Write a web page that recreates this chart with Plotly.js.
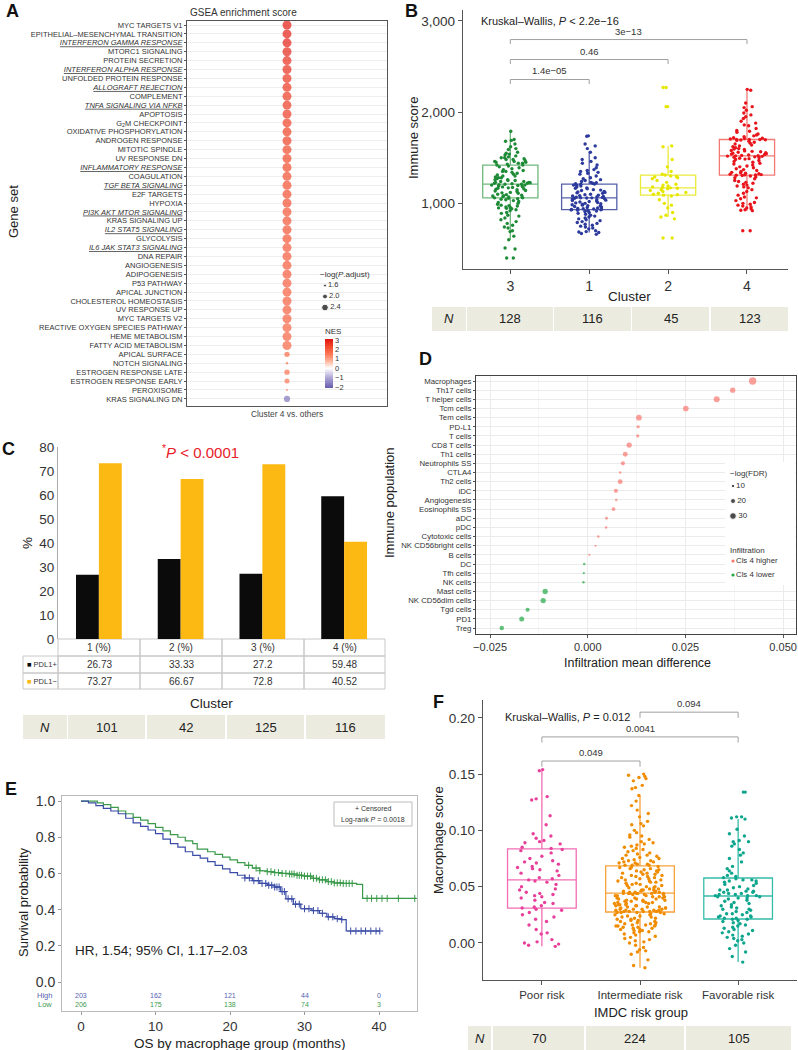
<!DOCTYPE html>
<html><head><meta charset="utf-8">
<script src="https://cdn.plot.ly/plotly-3.0.1.min.js"></script>
<style>html,body{margin:0;padding:0;background:#fff}#chart{width:798px;height:1050px}</style>
</head><body><div id="chart"></div>
<script>
// ================= DATA =================
// Panel A: GSEA hallmark gene sets (Cluster 4 vs. others)
const geneSets = ['MYC TARGETS V1','EPITHELIAL–MESENCHYMAL TRANSITION','INTERFERON GAMMA RESPONSE','MTORC1 SIGNALING','PROTEIN SECRETION','INTERFERON ALPHA RESPONSE','UNFOLDED PROTEIN RESPONSE','ALLOGRAFT REJECTION','COMPLEMENT','TNFA SIGNALING VIA NFKB','APOPTOSIS','G2M CHECKPOINT','OXIDATIVE PHOSPHORYLATION','ANDROGEN RESPONSE','MITOTIC SPINDLE','UV RESPONSE DN','INFLAMMATORY RESPONSE','COAGULATION','TGF BETA SIGNALING','E2F TARGETS','HYPOXIA','PI3K AKT MTOR SIGNALING','KRAS SIGNALING UP','IL2 STAT5 SIGNALING','GLYCOLYSIS','IL6 JAK STAT3 SIGNALING','DNA REPAIR','ANGIOGENESIS','ADIPOGENESIS','P53 PATHWAY','APICAL JUNCTION','CHOLESTEROL HOMEOSTASIS','UV RESPONSE UP','MYC TARGETS V2','REACTIVE OXYGEN SPECIES PATHWAY','HEME METABOLISM','FATTY ACID METABOLISM','APICAL SURFACE','NOTCH SIGNALING','ESTROGEN RESPONSE LATE','ESTROGEN RESPONSE EARLY','PEROXISOME','KRAS SIGNALING DN'];
const immuneSets = ['INTERFERON GAMMA RESPONSE','INTERFERON ALPHA RESPONSE','ALLOGRAFT REJECTION','TNFA SIGNALING VIA NFKB','INFLAMMATORY RESPONSE','TGF BETA SIGNALING','PI3K AKT MTOR SIGNALING','IL2 STAT5 SIGNALING','IL6 JAK STAT3 SIGNALING'];
const nesA = [3.0,2.9,2.9,2.8,2.7,2.7,2.6,2.6,2.5,2.5,2.5,2.4,2.4,2.4,2.3,2.3,2.3,2.2,2.2,2.2,2.2,2.1,2.1,2.1,2.1,2.0,2.0,2.0,2.0,1.95,1.95,1.9,1.9,1.9,1.85,1.85,1.8,1.7,1.6,1.6,1.55,1.4,-1.7];
const logPadjA = [2.9,2.9,2.9,2.9,2.9,2.9,2.9,2.9,2.9,2.9,2.9,2.9,2.9,2.9,2.9,2.9,2.9,2.9,2.9,2.9,2.9,2.9,2.9,2.9,2.9,2.9,2.9,2.9,2.9,2.9,2.9,2.9,2.9,2.9,2.9,2.9,2.9,2.1,1.5,2.1,2.05,1.4,2.3];
const sizeKeyA = [1.6, 2.0, 2.4];
const nesTicks = [-2,-1,0,1,2,3];

// Panel B: immune score by cluster
const clusterOrderB = ['3','1','2','4'];
const immune3 = [1790,1700,1690,1680,1650,1620,1600,1590,1560,1550,1540,1530,1520,1510,1500,1500,1490,1480,1480,1470,1460,1460,1450,1450,1440,1440,1430,1420,1420,1410,1400,1390,1380,1370,1360,1350,1350,1340,1330,1320,1310,1300,1300,1290,1280,1280,1270,1260,1260,1250,1250,1240,1240,1230,1230,1225,1220,1220,1215,1210,1210,1205,1200,1200,1195,1190,1185,1180,1175,1170,1165,1160,1155,1150,1140,1135,1130,1120,1115,1110,1100,1095,1090,1085,1080,1075,1070,1065,1060,1060,1055,1050,1045,1040,1030,1020,1010,1000,990,980,975,970,960,955,950,945,940,930,920,900,890,870,860,840,820,800,780,760,740,730,700,690,640,600,510,500,400,400];
const immune1 = [1740,1735,1650,1630,1600,1560,1500,1480,1460,1440,1420,1390,1370,1360,1350,1340,1330,1320,1300,1280,1270,1260,1250,1240,1230,1225,1220,1215,1212,1210,1200,1195,1190,1180,1170,1165,1160,1150,1145,1140,1130,1125,1120,1115,1110,1100,1095,1090,1085,1080,1075,1070,1068,1065,1062,1060,1058,1055,1050,1045,1040,1035,1030,1025,1020,1015,1010,1005,1000,995,990,985,980,975,970,965,960,955,950,945,940,938,935,932,930,928,925,920,915,910,900,890,880,870,860,850,840,830,820,810,800,790,780,770,760,750,740,730,720,700,690,685,680,670,660];
const immune2 = [2270,2270,2060,2060,1630,1620,1480,1400,1350,1320,1310,1300,1295,1290,1280,1270,1250,1230,1210,1200,1190,1180,1175,1170,1165,1160,1150,1140,1130,1120,1110,1100,1095,1090,1080,1040,1000,980,950,900,870,850,830,620,620];
const immune4 = [2250,2240,2100,2060,2050,2020,1990,1970,1950,1930,1900,1880,1860,1850,1820,1800,1790,1780,1760,1750,1740,1730,1720,1715,1710,1705,1700,1700,1700,1698,1695,1690,1680,1670,1660,1650,1640,1630,1620,1610,1600,1595,1590,1580,1575,1570,1565,1560,1555,1550,1545,1540,1535,1530,1525,1522,1520,1518,1515,1510,1505,1500,1495,1490,1485,1480,1470,1460,1450,1440,1430,1420,1410,1400,1390,1380,1370,1360,1350,1340,1335,1330,1325,1320,1315,1312,1310,1308,1305,1300,1290,1280,1270,1250,1230,1220,1210,1200,1190,1170,1150,1130,1110,1090,1070,1050,1030,1010,1000,990,980,970,960,950,940,930,925,920,1240,1180,1060,700,700];
const q1B  = [1060, 930, 1090, 1310];
const medB = [1210, 1060, 1170, 1520];
const q3B  = [1420, 1210, 1310, 1700];
const loB  = [600, 680, 850, 920];
const hiB  = [1790, 1570, 1630, 2250];
const nB = [128, 116, 45, 123];
const pairsB = [['3','1','1.4e−05'],['3','2','0.46'],['3','4','3e−13']];

// Panel C: PD-L1 status by cluster
const clustersC = ['1','2','3','4'];
const pdl1Pos = [26.73, 33.33, 27.2, 59.48];
const pdl1Neg = [73.27, 66.67, 72.8, 40.52];
const nC = [101, 42, 125, 116];

// Panel D: immune infiltration difference
const immunePops = ['Macrophages','Th17 cells','T helper cells','Tcm cells','Tem cells','PD-L1','T cells','CD8 T cells','Th1 cells','Neutrophils SS','CTLA4','Th2 cells','iDC','Angiogenesis','Eosinophils SS','aDC','pDC','Cytotoxic cells','NK CD56bright cells','B cells','DC','Tfh cells','NK cells','Mast cells','NK CD56dim cells','Tgd cells','PD1','Treg'];
const meanDiff = [0.0422,0.0371,0.0330,0.0251,0.0131,0.0129,0.0128,0.0106,0.0096,0.0090,0.0083,0.0083,0.0072,0.0073,0.0066,0.0048,0.0047,0.0027,0.0020,0.0004,-0.0009,-0.0010,-0.0011,-0.0109,-0.0114,-0.0154,-0.0169,-0.0220];
const negLogFDR = [34,22,26,24,24,9,9,22,19,15,5,19,15,5,13,7,5,5,3,3,5,3,5,22,22,15,20,17];
const sizeKeyD = [10, 20, 30];
const infilGroups = ['Cls 4 higher','Cls 4 lower'];

// Panel E: Kaplan–Meier by macrophage group
const lowT  = [0,2.2,3,4,5,6,7,8,9,10,11,12,13,14,15,15.6,17,18,19,20,21,22,23,24,25,26,27,28,29,30,31,32,33,34,35,37,37.8,45];
const lowS  = [1,0.99,0.98,0.965,0.945,0.93,0.91,0.895,0.875,0.855,0.835,0.815,0.8,0.78,0.765,0.735,0.72,0.705,0.69,0.675,0.66,0.645,0.63,0.615,0.61,0.605,0.6,0.597,0.59,0.585,0.573,0.565,0.555,0.548,0.545,0.54,0.462,0.462];
const highT = [0,1,2,3,4,5,6,7,8,9,10,11,12,13,14,15,16,17,18,19,20,21,22,23,24,25,26,26.8,27.5,28.5,29.5,31,32,33,34,35,35.6,40];
const highS = [1,0.99,0.975,0.96,0.945,0.93,0.905,0.88,0.86,0.84,0.82,0.79,0.765,0.745,0.72,0.7,0.685,0.665,0.645,0.625,0.605,0.59,0.575,0.56,0.545,0.535,0.525,0.5,0.46,0.43,0.405,0.395,0.38,0.36,0.35,0.345,0.282,0.282];
const lowCens  = [22.5,23.5,24,25,25.5,26,26.5,27,27.5,28,28.3,28.6,29,29.3,29.6,30,30.4,30.8,31.2,31.6,32,32.4,32.8,33.2,33.6,34,34.4,34.8,35.2,35.6,36,36.4,38.4,39,39.7,40.4,41.1,42.6,44.8];
const highCens = [22,22.6,23.2,23.8,24.3,24.8,25.2,25.6,26,26.3,26.6,27,27.3,27.8,28.3,28.8,29.3,30,30.6,31.2,31.8,32.4,33.2,33.8,34.4,35,36.2,36.9,37.6,38.2,38.9,39.6,40.1];
const riskTimes = [0,10,20,30,40];
const riskHigh = [203,162,121,44,0];
const riskLow  = [206,175,138,74,3];

// Panel F: macrophage score by IMDC risk group
const riskGroups = ['Poor risk','Intermediate risk','Favorable risk'];
const macPoor = [0.154,0.153,0.130,0.128,0.127,0.113,0.105,0.097,0.095,0.093,0.091,0.090,0.089,0.088,0.085,0.084,0.083,0.082,0.080,0.077,0.075,0.073,0.072,0.071,0.070,0.068,0.067,0.066,0.065,0.064,0.062,0.060,0.058,0.057,0.056,0.055,0.054,0.052,0.050,0.048,0.047,0.045,0.044,0.043,0.042,0.041,0.040,0.038,0.036,0.035,0.033,0.032,0.031,0.030,0.029,0.027,0.025,0.023,0.021,0.019,0.016,0.012,0.009,0.008,0.003,0.001,0.000,-0.002,-0.003,-0.001];
const macInter = [0.150,0.149,0.148,0.147,0.146,0.144,0.140,0.138,0.137,0.131,0.126,0.122,0.118,0.115,0.112,0.108,0.106,0.105,0.104,0.100,0.098,0.096,0.095,0.094,0.092,0.090,0.089,0.088,0.087,0.086,0.085,0.084,0.083,0.082,0.081,0.080,0.079,0.078,0.078,0.077,0.076,0.075,0.075,0.074,0.073,0.073,0.072,0.072,0.071,0.071,0.070,0.070,0.069,0.069,0.069,0.068,
0.067,0.067,0.066,0.066,0.065,0.065,0.064,0.064,0.063,0.063,0.062,0.062,0.061,0.061,0.060,0.060,0.059,0.059,0.058,0.058,0.057,0.057,0.056,0.056,0.055,0.055,0.054,0.054,0.053,0.053,0.052,0.052,0.051,0.051,0.050,0.050,0.049,0.049,0.048,0.048,0.047,0.047,0.047,0.046,0.046,0.046,0.045,0.045,0.045,0.045,0.044,0.044,0.044,0.044,0.044,0.044,
0.044,0.043,0.043,0.043,0.042,0.042,0.042,0.041,0.041,0.041,0.040,0.040,0.040,0.039,0.039,0.039,0.038,0.038,0.038,0.037,0.037,0.037,0.036,0.036,0.036,0.035,0.035,0.035,0.034,0.034,0.034,0.033,0.033,0.033,0.032,0.032,0.032,0.031,0.031,0.031,0.030,0.030,0.030,0.030,0.029,0.029,0.029,0.029,0.028,0.028,0.028,0.028,0.028,0.027,0.027,0.027,
0.027,0.026,0.026,0.025,0.025,0.024,0.024,0.023,0.023,0.022,0.022,0.021,0.021,0.020,0.020,0.019,0.019,0.018,0.018,0.017,0.017,0.016,0.016,0.016,0.015,0.015,0.015,0.014,0.014,0.013,0.013,0.012,0.012,0.011,0.011,0.010,0.010,0.009,0.008,0.007,0.006,0.005,0.004,0.003,0.002,0.001,0.000,-0.002,-0.004,-0.006,-0.007,-0.008,-0.010,-0.015,-0.020,-0.022];
const macFav = [0.134,0.134,0.112,0.112,0.111,0.110,0.101,0.097,0.095,0.091,0.090,0.090,0.088,0.086,0.083,0.080,0.078,0.075,0.072,0.068,0.066,0.064,0.062,0.060,0.059,0.058,
0.057,0.056,0.056,0.055,0.055,0.054,0.053,0.052,0.051,0.050,0.049,0.048,0.047,0.047,0.046,0.046,0.045,0.045,0.044,0.044,0.043,0.043,0.042,0.042,0.042,0.041,
0.041,0.040,0.040,0.039,0.038,0.037,0.036,0.035,0.034,0.033,0.032,0.031,0.030,0.030,0.029,0.028,0.027,0.026,0.026,0.025,0.024,0.024,0.023,0.023,0.022,0.022,0.021,
0.021,0.020,0.019,0.018,0.017,0.016,0.015,0.014,0.013,0.012,0.011,0.010,0.009,0.008,0.007,0.006,0.005,0.004,0.003,0.002,0.000,-0.002,-0.005,-0.008,-0.012,-0.017];
const q1F  = [0.031, 0.0275, 0.0213];
const medF = [0.056, 0.0443, 0.0417];
const q3F  = [0.0835, 0.0685, 0.0577];
const loF  = [-0.003, -0.022, -0.017];
const hiF  = [0.153, 0.131, 0.110];
const nF = [70, 224, 105];
const pairsF = [['Poor risk','Intermediate risk','0.049'],['Poor risk','Favorable risk','0.0041'],['Intermediate risk','Favorable risk','0.094']];

// ================= STYLE / LAYOUT =================
const W = 798, H = 1050;
const px = x => x / W, py = y => 1 - y / H;
const FONT = 'Liberation Sans, Arial, Helvetica, sans-serif';
const fnt = (size, color) => ({family: FONT, size: size, color: color || '#222'});
const annotations = [], shapes = [];
function T(text, x, y, o) { annotations.push(Object.assign({text, x: px(x), y: py(y), xref: 'paper', yref: 'paper', showarrow: false, xanchor: 'center', yanchor: 'middle'}, o || {})); }
function R(x0, y0, x1, y1, fill, line, layer) { shapes.push({type: 'rect', xref: 'paper', yref: 'paper', x0: px(x0), x1: px(x1), y0: py(y1), y1: py(y0), fillcolor: fill || 'rgba(0,0,0,0)', line: {width: line ? 1 : 0, color: line || 'rgba(0,0,0,0)'}, layer: layer || 'below'}); }
function nTable(cells, yTop, yBot, values) {
  cells.forEach((c, i) => {
    R(c[0], yTop, c[1], yBot, '#ecebdf');
    T(i === 0 ? '<i>N</i>' : String(values[i - 1]), (c[0] + c[1]) / 2, (yTop + yBot) / 2, {font: fnt(13, '#222')});
  });
}
const sizeA = v => Math.max(1.5, 3 + (v - 1.6) * 4.6);
const sizeD = v => 1.6 + v * 0.17;
const survAt = (Ts, Ss, t) => { let s = Ss[0]; for (let i = 0; i < Ts.length; i++) { if (Ts[i] <= t) s = Ss[i]; } return s; };

const traces = [];

// ---- Panel A ----
const labelsA = geneSets.map(g => {
  const lab = g.replace('G2M', 'G<sub>2</sub>M');
  return immuneSets.includes(g) ? '<span style="font-style:italic;text-decoration:underline">' + lab + '</span>' : lab;
});
const nesScale = [[0, '#665cae'], [0.2, '#aaa3d3'], [0.404, '#ffffff'], [0.55, '#ffb49a'], [0.7, '#fb7453'], [0.85, '#f2472a'], [1, '#e0120f']];
traces.push({type: 'scatter', mode: 'markers', x: geneSets.map(() => 'Cluster 4 vs. others'), y: geneSets,
  marker: {size: logPadjA.map(sizeA), color: nesA, colorscale: nesScale, cmin: -2.1, cmax: 3.1, line: {width: 0},
    showscale: true,
    colorbar: {x: px(325), xanchor: 'left', y: py(388), yanchor: 'bottom', len: 63, lenmode: 'pixels', thickness: 8, thicknessmode: 'pixels',
      outlinewidth: 0, tickvals: nesTicks, ticktext: nesTicks.map(v => v < 0 ? '−' + Math.abs(v) : String(v)), ticks: '',
      tickfont: fnt(7.5, '#333'), title: {text: 'NES', side: 'top', font: fnt(8, '#333')}, xpad: 0, ypad: 0}},
  xaxis: 'x', yaxis: 'y', hoverinfo: 'skip'});
traces.push({type: 'scatter', mode: 'markers+text', x: sizeKeyA.map(() => 0), y: sizeKeyA.map(v => v.toFixed(1)),
  text: sizeKeyA.map(v => v.toFixed(1)), textposition: 'middle right', textfont: fnt(7.5, '#333'),
  marker: {size: sizeKeyA.map(sizeA), color: '#000'}, xaxis: 'x7', yaxis: 'y7', cliponaxis: false, hoverinfo: 'skip'});

// ---- Panel B ----
const valsB = [immune3, immune1, immune2, immune4];
const boxColB = ['#6fb87c', '#5560aa', '#eaea3a', '#f27a74'];
const ptColB = ['#1d8a36', '#2c3a9c', '#e6e600', '#e8141c'];
clusterOrderB.forEach((c, i) => {
  traces.push({type: 'box', x: [c], q1: [q1B[i]], median: [medB[i]], q3: [q3B[i]], lowerfence: [loB[i]], upperfence: [hiB[i]],
    width: 0.7, whiskerwidth: 0, fillcolor: 'rgba(255,255,255,0)', line: {color: boxColB[i], width: 1.3}, xaxis: 'x2', yaxis: 'y2', hoverinfo: 'skip'});
  traces.push({type: 'box', x: valsB[i].map(() => c), y: valsB[i], boxpoints: 'all', jitter: 0.75, pointpos: 0, width: 0.7, whiskerwidth: 0,
    fillcolor: 'rgba(0,0,0,0)', line: {color: 'rgba(0,0,0,0)', width: 0}, marker: {color: ptColB[i], size: 3.4}, xaxis: 'x2', yaxis: 'y2', hoverinfo: 'skip'});
});
const bracketHB = [2358, 2577, 2796];
pairsB.forEach((p, i) => {
  const h = bracketHB[i];
  traces.push({type: 'scatter', mode: 'lines', x: [p[0], p[0], p[1], p[1]], y: [h - 50, h, h, h - 50], line: {color: '#a0a0a0', width: 1}, xaxis: 'x2', yaxis: 'y2', hoverinfo: 'skip'});
  const mid = (clusterOrderB.indexOf(p[0]) + clusterOrderB.indexOf(p[1])) / 2;
  annotations.push({text: p[2], x: mid, y: h, xref: 'x2', yref: 'y2', yanchor: 'bottom', yshift: 1, showarrow: false, font: fnt(9.5, '#333')});
});

// ---- Panel C ----
traces.push({type: 'bar', x: clustersC, y: pdl1Pos, marker: {color: '#0b0b0b'}, xaxis: 'x3', yaxis: 'y3', hoverinfo: 'skip'});
traces.push({type: 'bar', x: clustersC, y: pdl1Neg, marker: {color: '#fcb813'}, xaxis: 'x3', yaxis: 'y3', hoverinfo: 'skip'});

// ---- Panel D ----
['pos', 'neg'].forEach((g, gi) => {
  const idx = meanDiff.map((v, i) => i).filter(i => gi === 0 ? meanDiff[i] > 0 : meanDiff[i] <= 0);
  traces.push({type: 'scatter', mode: 'markers', x: idx.map(i => meanDiff[i]), y: idx.map(i => immunePops[i]),
    marker: {size: idx.map(i => sizeD(negLogFDR[i])), color: gi === 0 ? '#f8766d' : '#22a845', line: {width: 0}}, xaxis: 'x4', yaxis: 'y4', hoverinfo: 'skip'});
});
traces.push({type: 'scatter', mode: 'markers+text', x: sizeKeyD.map(() => 0), y: sizeKeyD.map(String), text: sizeKeyD.map(String),
  textposition: 'middle right', textfont: fnt(8, '#333'), marker: {size: sizeKeyD.map(sizeD), color: '#000'}, xaxis: 'x8', yaxis: 'y8', cliponaxis: false, hoverinfo: 'skip'});
traces.push({type: 'scatter', mode: 'markers+text', x: infilGroups.map(() => 0), y: infilGroups, text: infilGroups,
  textposition: 'middle right', textfont: fnt(7.8, '#333'), marker: {size: 3.2, color: ['#f8766d', '#22a845']}, xaxis: 'x9', yaxis: 'y9', cliponaxis: false, hoverinfo: 'skip'});

// ---- Panel E ----
const colHigh = '#3b4ca6', colLow = '#3a9a4a';
traces.push({type: 'scatter', mode: 'lines', x: lowT, y: lowS, line: {shape: 'hv', color: colLow, width: 1.2}, xaxis: 'x5', yaxis: 'y5', hoverinfo: 'skip'});
traces.push({type: 'scatter', mode: 'lines', x: highT, y: highS, line: {shape: 'hv', color: colHigh, width: 1.2}, xaxis: 'x5', yaxis: 'y5', hoverinfo: 'skip'});
traces.push({type: 'scatter', mode: 'markers', x: lowCens, y: lowCens.map(t => survAt(lowT, lowS, t)), marker: {symbol: 'cross-thin-open', size: 5, color: colLow, line: {width: 1, color: colLow}}, xaxis: 'x5', yaxis: 'y5', hoverinfo: 'skip'});
traces.push({type: 'scatter', mode: 'markers', x: highCens, y: highCens.map(t => survAt(highT, highS, t)), marker: {symbol: 'cross-thin-open', size: 5, color: colHigh, line: {width: 1, color: colHigh}}, xaxis: 'x5', yaxis: 'y5', hoverinfo: 'skip'});

// ---- Panel F ----
const valsF = [macPoor, macInter, macFav];
const boxColF = ['#f26db5', '#f7a23a', '#36bca9'];
const ptColF = ['#e8409a', '#f08c00', '#0ea58d'];
riskGroups.forEach((c, i) => {
  traces.push({type: 'box', x: [c], q1: [q1F[i]], median: [medF[i]], q3: [q3F[i]], lowerfence: [loF[i]], upperfence: [hiF[i]],
    width: 0.7, whiskerwidth: 0, fillcolor: 'rgba(255,255,255,0)', line: {color: boxColF[i], width: 1.3}, xaxis: 'x6', yaxis: 'y6', hoverinfo: 'skip'});
  traces.push({type: 'box', x: valsF[i].map(() => c), y: valsF[i], boxpoints: 'all', jitter: 0.75, pointpos: 0, width: 0.7, whiskerwidth: 0,
    fillcolor: 'rgba(0,0,0,0)', line: {color: 'rgba(0,0,0,0)', width: 0}, marker: {color: ptColF[i], size: 3.4}, xaxis: 'x6', yaxis: 'y6', hoverinfo: 'skip'});
});
const bracketHF = [0.1616, 0.183, 0.205];
pairsF.forEach((p, i) => {
  const h = bracketHF[i];
  traces.push({type: 'scatter', mode: 'lines', x: [p[0], p[0], p[1], p[1]], y: [h - 0.005, h, h, h - 0.005], line: {color: '#a0a0a0', width: 1}, xaxis: 'x6', yaxis: 'y6', hoverinfo: 'skip'});
  const mid = (riskGroups.indexOf(p[0]) + riskGroups.indexOf(p[1])) / 2;
  annotations.push({text: p[2], x: mid, y: h, xref: 'x6', yref: 'y6', yanchor: 'bottom', yshift: 1, showarrow: false, font: fnt(9.5, '#333')});
});

// ================= ANNOTATIONS / TABLES =================
const letter = s => '<b>' + s + '</b>';
T(letter('A'), 12, 11, {font: fnt(18, '#111')});
T(letter('B'), 411, 11, {font: fnt(18, '#111')});
T(letter('C'), 8, 449, {font: fnt(18, '#111')});
T(letter('D'), 425, 359, {font: fnt(18, '#111')});
T(letter('E'), 11, 789, {font: fnt(18, '#111')});
T(letter('F'), 438, 702, {font: fnt(18, '#111')});

// A
T('GSEA enrichment score', 188, 12, {xanchor: 'left', font: fnt(10, '#333')});
T('Gene set', 13, 212, {textangle: -90, font: fnt(13)});
T('−log(<i>P</i>.adjust)', 318, 275, {xanchor: 'left', font: fnt(8, '#333')});

// B
T('Kruskal–Wallis, <i>P</i> < 2.2e−16', 479, 21, {xanchor: 'left', font: fnt(11)});
T('Immune score', 413, 138, {textangle: -90, font: fnt(13)});
T('Cluster', 629, 296, {font: fnt(13.5)});
nTable([[432, 466], [467, 553], [554, 631], [632, 709], [711, 788]], 307, 331, nB);

// C
T('%', 27, 543, {textangle: -90, font: fnt(13.5)});
T('<sup>*</sup><i>P</i> < 0.0001', 200, 451, {font: fnt(15, '#e8202a')});
const cB = [58, 140, 222, 304, 385];
const gridC = '#c8c8c8';
for (let i = 0; i < 4; i++) {
  R(cB[i], 639, cB[i + 1], 656, null, gridC);
  R(cB[i], 656, cB[i + 1], 673, null, gridC);
  R(cB[i], 673, cB[i + 1], 689, null, gridC);
  const cx = (cB[i] + cB[i + 1]) / 2;
  T(clustersC[i] + ' (%)', cx, 647.5, {font: fnt(10, '#333')});
  T(String(pdl1Pos[i]), cx, 664.5, {font: fnt(10, '#333')});
  T(String(pdl1Neg[i]), cx, 681, {font: fnt(10, '#333')});
}
R(23, 656, 58, 673, null, gridC);
R(23, 673, 58, 689, null, gridC);
T('<span style="color:#0b0b0b">■</span> PDL1+', 25, 664.5, {xanchor: 'left', font: fnt(7.5, '#333')});
T('<span style="color:#fcb813">■</span> PDL1−', 25, 681, {xanchor: 'left', font: fnt(7.5, '#333')});
T('Cluster', 211, 703, {font: fnt(13.5)});
nTable([[23, 67], [68, 145], [147, 225], [227, 304], [306, 385]], 715, 739, nC);

// D
T('Immune population', 389, 503, {textangle: -90, font: fnt(13)});
T('Infiltration mean difference', 637, 663, {font: fnt(12.5)});
shapes.push({type: 'rect', xref: 'x4', yref: 'y4', x0: 0.0351, x1: 0.0531, y0: 8.85, y1: 22.3, fillcolor: '#ffffff', line: {width: 0}, layer: 'between'});
T('−log(FDR)', 728, 473, {xanchor: 'left', font: fnt(8, '#333')});
T('Infiltration', 728, 550, {xanchor: 'left', font: fnt(8, '#333')});

// E
T('Survival probability', 23, 902, {textangle: -90, font: fnt(13)});
T('OS by macrophage group (months)', 240, 1043, {font: fnt(13.5)});
T('HR, 1.54; 95% CI, 1.17–2.03', 73, 950, {xanchor: 'left', font: fnt(13.5)});
R(334, 802, 412, 826, '#ffffff', '#bbbbbb', 'above');
T('+ Censored', 373, 808.5, {font: fnt(7, '#333')});
T('Log-rank <i>P</i> = 0.0018', 373, 819.5, {font: fnt(7, '#333')});
T('High', 54, 995, {xanchor: 'right', font: fnt(7.5, '#5561b0')});
T('Low', 54, 1004.5, {xanchor: 'right', font: fnt(7.5, '#3f9a50')});
riskTimes.forEach((t, i) => {
  annotations.push({text: String(riskHigh[i]), x: t, xref: 'x5', y: py(995), yref: 'paper', xanchor: 'center', yanchor: 'middle', showarrow: false, font: fnt(7, '#5561b0')});
  annotations.push({text: String(riskLow[i]), x: t, xref: 'x5', y: py(1004.5), yref: 'paper', xanchor: 'center', yanchor: 'middle', showarrow: false, font: fnt(7, '#3f9a50')});
});

// F
T('Kruskal–Wallis, <i>P</i> = 0.012', 503, 717, {xanchor: 'left', font: fnt(11)});
T('Macrophage score', 438, 840, {textangle: -90, font: fnt(13)});
T('IMDC risk group', 641, 1012, {font: fnt(13)});
nTable([[468, 491], [493, 584], [586, 684], [686, 791]], 1026, 1050, nF);

// ================= AXES =================
const baseAx = {zeroline: false, showgrid: false, fixedrange: true};
const layout = {
  width: W, height: H, margin: {l: 0, r: 0, t: 0, b: 0}, paper_bgcolor: '#fff', plot_bgcolor: 'rgba(0,0,0,0)',
  font: fnt(10), showlegend: false, hovermode: false, barmode: 'group', bargap: 0.44, bargroupgap: 0, boxmode: 'overlay',
  annotations: annotations, shapes: shapes,
  // A
  xaxis: Object.assign({}, baseAx, {domain: [px(187), px(387)], type: 'category', range: [-1, 1], anchor: 'y', tickfont: fnt(8.4, '#444'), ticks: '', showline: true, mirror: true, linecolor: '#555', linewidth: 1}),
  yaxis: Object.assign({}, baseAx, {domain: [py(406), py(21)], type: 'category', categoryorder: 'array', categoryarray: geneSets, range: [42.8, -0.45], anchor: 'x',
    tickmode: 'array', tickvals: geneSets, ticktext: labelsA, tickfont: fnt(7.5, '#333'), ticks: 'outside', ticklen: 2, tickcolor: '#555',
    showline: true, mirror: true, linecolor: '#555', linewidth: 1, showgrid: true, gridcolor: '#eeeeee', gridwidth: 1}),
  // B
  xaxis2: Object.assign({}, baseAx, {domain: [px(463), px(788)], type: 'category', categoryorder: 'array', categoryarray: clusterOrderB, range: [-0.6, 3.52], anchor: 'y2',
    showline: true, linecolor: '#555', linewidth: 1.2, ticks: 'outside', ticklen: 4, tickcolor: '#555', tickfont: fnt(14, '#333')}),
  yaxis2: Object.assign({}, baseAx, {domain: [py(269), py(10)], range: [280, 3120], anchor: 'x2', tickvals: [1000, 2000, 3000], tickformat: ',',
    showline: true, linecolor: '#555', linewidth: 1.2, ticks: 'outside', ticklen: 4, tickcolor: '#555', tickfont: fnt(13.5, '#333')}),
  // C
  xaxis3: Object.assign({}, baseAx, {domain: [px(58), px(385)], type: 'category', categoryorder: 'array', categoryarray: clustersC, range: [-0.5, 3.5], anchor: 'y3', showticklabels: false, ticks: '', showline: false}),
  yaxis3: Object.assign({}, baseAx, {domain: [py(639), py(447)], range: [0, 80], dtick: 10, anchor: 'x3', showline: true, linecolor: '#aaaaaa', linewidth: 1, ticks: '', tickfont: fnt(13.5, '#333')}),
  // D
  xaxis4: Object.assign({}, baseAx, {domain: [px(476), px(796)], range: [-0.0286, 0.0533], anchor: 'y4', tick0: 0, dtick: 0.025, tickformat: '.3f',
    showgrid: true, gridcolor: '#ebebeb', minor: {dtick: 0.0125, tick0: 0, showgrid: true, gridcolor: '#f5f5f5', ticks: ''},
    ticks: 'outside', ticklen: 3, tickcolor: '#555', tickfont: fnt(11, '#333'), showline: true, mirror: true, linecolor: '#444', linewidth: 1}),
  yaxis4: Object.assign({}, baseAx, {domain: [py(634), py(376)], type: 'category', categoryorder: 'array', categoryarray: immunePops, range: [27.65, -0.55], anchor: 'x4',
    showgrid: true, gridcolor: '#ebebeb', ticks: 'outside', ticklen: 2, tickcolor: '#555', tickfont: fnt(7.8, '#333'), showline: true, mirror: true, linecolor: '#444', linewidth: 1}),
  // E
  xaxis5: Object.assign({}, baseAx, {domain: [px(62), px(417)], range: [-2.55, 45.1], anchor: 'y5', tickvals: riskTimes, ticks: 'outside', ticklen: 3, tickcolor: '#999',
    showline: true, mirror: true, linecolor: '#bbbbbb', linewidth: 1, tickfont: fnt(13.5, '#333')}),
  yaxis5: Object.assign({}, baseAx, {domain: [py(1011), py(796)], range: [-0.160, 1.028], anchor: 'x5', tickvals: [0, 0.2, 0.4, 0.6, 0.8, 1.0], tickformat: '.1f',
    ticks: 'outside', ticklen: 3, tickcolor: '#999', showline: true, mirror: true, linecolor: '#bbbbbb', linewidth: 1, tickfont: fnt(14, '#333')}),
  // F
  xaxis6: Object.assign({}, baseAx, {domain: [px(483), px(797)], type: 'category', categoryorder: 'array', categoryarray: riskGroups, range: [-0.6, 2.6], anchor: 'y6',
    showline: true, linecolor: '#555', linewidth: 1.2, ticks: 'outside', ticklen: 4, tickcolor: '#555', tickfont: fnt(11.5, '#333')}),
  yaxis6: Object.assign({}, baseAx, {domain: [py(980), py(700)], range: [-0.0329, 0.2158], anchor: 'x6', tickvals: [0, 0.05, 0.1, 0.15, 0.2], tickformat: '.2f',
    showline: true, linecolor: '#555', linewidth: 1.2, ticks: 'outside', ticklen: 4, tickcolor: '#555', tickfont: fnt(13.5, '#333')}),
  // legend key helper axes
  xaxis7: {domain: [px(320), px(350)], range: [-0.5, 2.5], visible: false, fixedrange: true, anchor: 'y7'},
  yaxis7: {domain: [py(313), py(280)], type: 'category', categoryorder: 'array', categoryarray: sizeKeyA.map(v => v.toFixed(1)), range: [2.5, -0.5], visible: false, fixedrange: true, anchor: 'x7'},
  xaxis8: {domain: [px(728), px(768)], range: [-0.5, 3.5], visible: false, fixedrange: true, anchor: 'y8'},
  yaxis8: {domain: [py(523.5), py(478.5)], type: 'category', categoryorder: 'array', categoryarray: sizeKeyD.map(String), range: [2.5, -0.5], visible: false, fixedrange: true, anchor: 'x8'},
  xaxis9: {domain: [px(728), px(768)], range: [-0.5, 3.5], visible: false, fixedrange: true, anchor: 'y9'},
  yaxis9: {domain: [py(582), py(554)], type: 'category', categoryorder: 'array', categoryarray: infilGroups, range: [1.5, -0.5], visible: false, fixedrange: true, anchor: 'x9'}
};

Plotly.newPlot('chart', traces, layout, {staticPlot: true, displayModeBar: false});
</script>
</body></html>
